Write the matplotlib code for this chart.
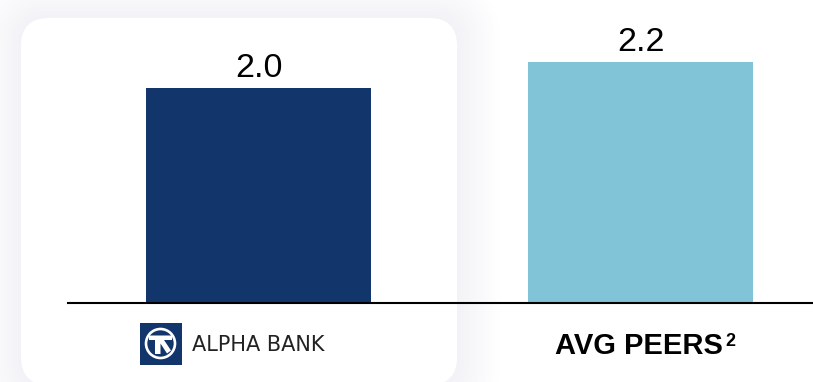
import matplotlib
matplotlib.use('Agg')
import matplotlib.pyplot as plt
import matplotlib.patches as mpatches
from matplotlib.patches import FancyBboxPatch

W, H = 813, 382

# Dados
categorias = ['ALPHA BANK', 'AVG PEERS']
valores = [2.0, 2.24]
cores = ['#12356B', '#81C4D8']

plt.rcParams['font.family'] = ['Liberation Sans', 'DejaVu Sans']

fig = plt.figure(figsize=(W / 100, H / 100), dpi=100, facecolor='white')

# Camada de fundo em pixels (cartao com sombra)
bg = fig.add_axes([0, 0, 1, 1], zorder=0)
bg.set_xlim(0, W)
bg.set_ylim(H, 0)
bg.axis('off')

n = 45
for i in range(n, 0, -1):
    t = 1 - i / n
    cor = (1 - 0.05 * t, 1 - 0.05 * t, 1 - 0.032 * t)
    sombra = FancyBboxPatch(
        (21 - i, 18 - i), 436 + 2 * i, 367 + 2 * i,
        boxstyle="round,pad=0,rounding_size=%d" % (28 + i),
        facecolor=cor, edgecolor='none'
    )
    bg.add_patch(sombra)

cartao = FancyBboxPatch(
    (21, 18), 436, 367,
    boxstyle="round,pad=0,rounding_size=28",
    facecolor='white', edgecolor='none'
)
bg.add_patch(cartao)

# Barras
ax = fig.add_axes([68 / W, (H - 302.5) / H, 745 / W, 302.5 / H], zorder=1)
ax.patch.set_alpha(0)
barras = ax.bar(range(len(valores)), valores, width=225 / 382, color=cores)
ax.set_xlim(-190.5 / 382, 554.5 / 382)
ax.set_ylim(0, 2.0 * 302.5 / 214.5)
ax.set_yticks([])
ax.set_xticks([])
for lado in ['left', 'right', 'top']:
    ax.spines[lado].set_visible(False)
ax.spines['bottom'].set_linewidth(1.5)
ax.spines['bottom'].set_color('black')

for barra, v in zip(barras, valores):
    ax.annotate('%.1f' % v, (barra.get_x() + barra.get_width() / 2, v),
                xytext=(0, 8), textcoords='offset points',
                ha='center', va='baseline', fontsize=24.5, color='black')

# Logo
fg = fig.add_axes([0, 0, 1, 1], zorder=2)
fg.set_xlim(0, W)
fg.set_ylim(H, 0)
fg.axis('off')
fg.add_patch(mpatches.Rectangle((139.5, 323), 42, 42, facecolor='#12356B', edgecolor='none'))
fg.add_patch(mpatches.Circle((160.5, 343.5), 14.5, facecolor='none', edgecolor='white', linewidth=1.9))
fg.add_patch(mpatches.Polygon(
    [(149, 335.5), (172, 335.5), (172, 340), (164, 340), (171, 350.5), (167, 353.5),
     (160.5, 343.5), (160.5, 354), (155, 354), (155, 340), (149, 340)],
    closed=True, facecolor='white', edgecolor='none'))
fg.text(191.5, 351, categorias[0], fontsize=15, color='#222222', ha='left', va='baseline',
        family='DejaVu Sans')

# Rotulo dos pares
fg.text(555, 354, categorias[1], fontsize=21, fontweight='bold', ha='left', va='baseline', color='black')
fg.text(725, 345.5, '2', fontsize=13, fontweight='bold', ha='left', va='baseline', color='black')

fig.savefig('out.png', dpi=100)
